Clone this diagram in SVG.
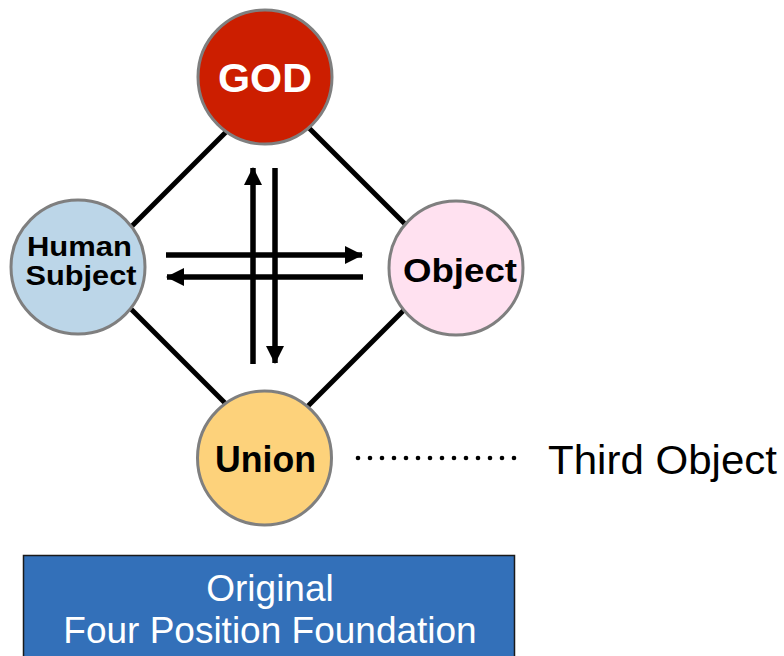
<svg xmlns="http://www.w3.org/2000/svg" width="784" height="656" viewBox="0 0 784 656">
<defs>
<style>
.node{stroke:#7f7f7f;stroke-width:3}
.lbl{font-family:"Liberation Sans",Arial,sans-serif;font-weight:bold;text-anchor:middle;fill:#000}
.edge{stroke:#000;stroke-width:5;fill:none}
.arr{stroke:#000;stroke-width:5.5;fill:none}
.plain{font-family:"Liberation Sans",Arial,sans-serif;fill:#000}
</style>
<marker id="ah" viewBox="0 0 18 18" refX="17" refY="9" markerWidth="18" markerHeight="18" markerUnits="userSpaceOnUse" orient="auto">
<path d="M0,0 L18,9 L0,18 Z" fill="#000"/>
</marker>
</defs>
<rect width="784" height="656" fill="#fff"/>
<g id="connectors">
<line class="edge" x1="115" y1="243" x2="245" y2="113"/>
<line class="edge" x1="290" y1="109" x2="430" y2="249"/>
<line class="edge" x1="115" y1="293" x2="240" y2="418"/>
<line class="edge" x1="430" y1="284" x2="290" y2="424"/>
<line class="arr" x1="166" y1="255" x2="362" y2="255" marker-end="url(#ah)"/>
<line class="arr" x1="363" y1="277" x2="167" y2="277" marker-end="url(#ah)"/>
<line class="arr" x1="253" y1="364" x2="253" y2="168" marker-end="url(#ah)"/>
<line class="arr" x1="275" y1="168" x2="275" y2="363" marker-end="url(#ah)"/>
<g fill="#000">
<circle cx="358" cy="458" r="2.3"/><circle cx="370" cy="458" r="2.3"/><circle cx="382" cy="458" r="2.3"/><circle cx="394" cy="458" r="2.3"/><circle cx="406" cy="458" r="2.3"/><circle cx="418" cy="458" r="2.3"/><circle cx="430" cy="458" r="2.3"/><circle cx="442" cy="458" r="2.3"/><circle cx="454" cy="458" r="2.3"/><circle cx="466" cy="458" r="2.3"/><circle cx="478" cy="458" r="2.3"/><circle cx="490" cy="458" r="2.3"/><circle cx="502" cy="458" r="2.3"/><circle cx="514" cy="458" r="2.3"/>
</g>
</g>
<g id="god">
<circle class="node" cx="265" cy="77" r="67" fill="#cc1e00"/>
<text class="lbl" x="265" y="92" font-size="40" style="fill:#fff" textLength="94" lengthAdjust="spacingAndGlyphs">GOD</text>
</g>
<g id="human">
<circle class="node" cx="78" cy="267" r="67" fill="#bcd6e8"/>
<text class="lbl" x="79.5" y="256" font-size="27" textLength="105" lengthAdjust="spacingAndGlyphs">Human</text>
<text class="lbl" x="81" y="285" font-size="27" textLength="111" lengthAdjust="spacingAndGlyphs">Subject</text>
</g>
<g id="object">
<circle class="node" cx="456" cy="268" r="67" fill="#ffe1f0"/>
<text class="lbl" x="460" y="282" font-size="34" textLength="114" lengthAdjust="spacingAndGlyphs">Object</text>
</g>
<g id="union">
<circle class="node" cx="264.5" cy="458" r="67" fill="#fdd27b"/>
<text class="lbl" x="265.5" y="472" font-size="36" textLength="101" lengthAdjust="spacingAndGlyphs">Union</text>
</g>
<g id="third-object">
<text class="plain" x="548" y="474" font-size="40" textLength="229" lengthAdjust="spacingAndGlyphs">Third Object</text>
</g>
<g id="foundation">
<rect x="23.5" y="555.5" width="491" height="110" fill="#3370b9" stroke="#1a1a1a" stroke-width="1.5"/>
<text class="plain" x="270" y="601" font-size="37" text-anchor="middle" style="fill:#fff">Original</text>
<text class="plain" x="270" y="643" font-size="37" text-anchor="middle" style="fill:#fff">Four Position Foundation</text>
</g>
</svg>
